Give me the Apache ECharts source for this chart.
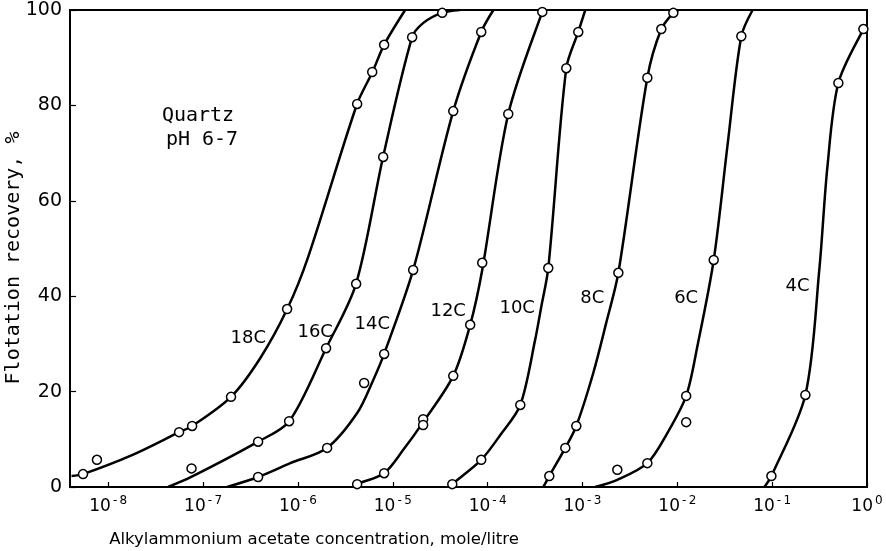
<!DOCTYPE html>
<html>
<head>
<meta charset="utf-8">
<script src="https://cdn.jsdelivr.net/npm/echarts@6/dist/echarts.min.js"></script>
<style>html,body{margin:0;padding:0;background:#fff;}#c{width:886px;height:551px;}</style>
</head>
<body>
<div id="c"></div>
<script>
// ---- data (x: mole/litre, y: flotation recovery %) ----
const curveNames = ['18C', '16C', '14C', '12C', '10C', '8C', '6C', '4C'];

// smooth fitted curves
const curve18C = [[4.1e-9,2.3],[5.4e-9,2.7],[1.83e-8,6.8],[5.6e-8,11.5],[7.7e-8,12.8],[1.97e-7,18.9],[4.0e-7,27.0],[7.7e-7,37.3],[1.28e-6,48.2],[4.2e-6,80.3],[6.1e-6,87.0],[8.1e-6,92.7],[1.35e-5,100]];
const curve16C = [[4.27e-8,0],[7.5e-8,2.1],[3.8e-7,9.5],[8.1e-7,13.8],[1.98e-6,29.1],[4.1e-6,42.6],[7.9e-6,69.2],[1.6e-5,94.3],[2.1e-5,97.3],[3.3e-5,99.4],[5.1e-5,100]];
const curve14C = [[1.79e-7,0],[3.8e-7,2.1],[8.3e-7,5.0],[2.03e-6,8.2],[4.21e-6,15.5],[6.21e-6,22.4],[8.1e-6,27.9],[1.64e-5,45.5],[4.34e-5,78.8],[8.56e-5,95.4],[1.15e-4,100]];
const curve12C = [[3.82e-6,0],[4.21e-6,0.6],[8.1e-6,2.9],[1.29e-5,7.8],[2.09e-5,13.6],[4.34e-5,23.3],[6.55e-5,34.0],[8.77e-5,45.5],[1.65e-4,78.2],[3.77e-4,99.6],[4.05e-4,100]];
const curve10C = [[4.04e-5,0],[4.24e-5,0.6],[8.56e-5,5.7],[1.36e-4,10.9],[2.21e-4,17.2],[3.18e-4,31.0],[3.67e-4,37.7],[4.36e-4,45.9],[6.75e-4,87.8],[9.03e-4,95.4],[1.07e-3,100]];
const curve8C  = [[3.86e-4,0],[4.47e-4,2.3],[6.59e-4,8.2],[8.61e-4,12.8],[1.30e-3,23.9],[1.78e-3,34.4],[2.39e-3,44.9],[4.83e-3,85.8],[6.78e-3,96.0],[9.08e-3,99.4],[1.03e-2,100]];
const curve6C  = [[1.36e-3,0],[2.33e-3,1.5],[4.83e-3,5.0],[7.85e-3,11.3],[1.24e-2,19.1],[1.62e-2,29.3],[2.42e-2,47.6],[3.40e-2,72.0],[4.73e-2,94.5],[6.22e-2,100]];
const curve4C  = [[8.28e-2,0],[9.82e-2,2.3],[0.224,19.3],[0.314,45.5],[0.382,67.0],[0.499,84.7],[0.916,96.0],[1.0,96.9]];

// measured points (open circles)
const pts18C = [[5.42e-9,2.7],[7.6e-9,5.7],[5.58e-8,11.5],[7.66e-8,12.8],[1.97e-7,18.9],[7.69e-7,37.3],[4.21e-6,80.3],[6.07e-6,87.0],[8.11e-6,92.7]];
const pts16C = [[7.55e-8,3.9],[3.80e-7,9.5],[8.07e-7,13.8],[1.98e-6,29.1],[4.11e-6,42.6],[7.92e-6,69.2],[1.60e-5,94.3],[3.32e-5,99.4]];
const pts14C = [[3.80e-7,2.1],[2.03e-6,8.2],[4.99e-6,21.8],[8.11e-6,27.9],[1.64e-5,45.5],[4.34e-5,78.8],[8.56e-5,95.4]];
const pts12C = [[4.21e-6,0.6],[8.11e-6,2.9],[2.09e-5,14.2],[2.09e-5,13.0],[4.34e-5,23.3],[6.55e-5,34.0],[8.77e-5,47.0],[1.65e-4,78.2],[3.77e-4,99.6]];
const pts10C = [[4.24e-5,0.6],[8.56e-5,5.7],[2.21e-4,17.2],[4.36e-4,45.9],[6.75e-4,87.8],[9.03e-4,95.4]];
const pts8C  = [[4.47e-4,2.3],[6.59e-4,8.2],[8.61e-4,12.8],[2.39e-3,44.9],[4.83e-3,85.8],[6.78e-3,96.0],[9.08e-3,99.4]];
const pts6C  = [[2.33e-3,3.6],[4.83e-3,5.0],[1.24e-2,13.6],[1.24e-2,19.1],[2.42e-2,47.6],[4.73e-2,94.5]];
const pts4C  = [[9.82e-2,2.3],[0.224,19.3],[0.499,84.7],[0.916,96.0]];

// curve label anchor positions (data coords)
const labelPos = [[2.99e-7,31.2],[1.52e-6,32.5],[6.07e-6,34.0],[3.84e-5,36.9],[2.05e-4,37.5],[1.27e-3,39.6],[1.24e-2,39.6],[0.185,42.1]];

const xMin = 3.95e-9, xMax = 1;
const yTicks = [0, 20, 40, 60, 80, 100];

const curves = [curve18C, curve16C, curve14C, curve12C, curve10C, curve8C, curve6C, curve4C];
const points = [pts18C, pts16C, pts14C, pts12C, pts10C, pts8C, pts6C, pts4C];

const FONT = 'DejaVu Sans';
const series = [];
curves.forEach((c, i) => {
  series.push({
    name: curveNames[i] + ' curve', type: 'line', data: c, smooth: 0.3,
    showSymbol: false, symbol: 'none', lineStyle: { color: '#000', width: 2.5 }, z: 2, silent: true
  });
});
points.forEach((p, i) => {
  series.push({
    name: curveNames[i], type: 'scatter', data: p, symbol: 'circle', symbolSize: 9,
    itemStyle: { color: '#fff', borderColor: '#000', borderWidth: 1.5, opacity: 1 }, z: 4, silent: true
  });
});

const staticGraphic = [
  { type: 'text', x: 198, y: 116, style: { text: 'Quartz', fontFamily: 'DejaVu Sans Mono', fontSize: 20, fill: '#000', align: 'center', verticalAlign: 'middle' } },
  { type: 'text', x: 202, y: 140, style: { text: 'pH 6-7', fontFamily: 'DejaVu Sans Mono', fontSize: 20, fill: '#000', align: 'center', verticalAlign: 'middle' } },
  { type: 'text', x: 314, y: 540, style: { text: 'Alkylammonium acetate concentration, mole/litre', fontFamily: FONT, fontSize: 16.5, fill: '#000', align: 'center', verticalAlign: 'middle' } },
  { type: 'text', x: 14, y: 258, rotation: Math.PI / 2, style: { text: 'Flotation recovery, %', fontFamily: 'DejaVu Sans Mono', fontSize: 20, fill: '#000', align: 'center', verticalAlign: 'middle' } }
];

const chart = echarts.init(document.getElementById('c'), null, { renderer: 'canvas' });
chart.setOption({
  animation: false,
  backgroundColor: '#fff',
  grid: { left: 70, right: 19, top: 10, bottom: 64, show: true, borderColor: '#000', borderWidth: 2, backgroundColor: 'transparent' },
  xAxis: {
    type: 'log', logBase: 10, min: xMin, max: xMax, splitNumber: 9,
    axisLine: { show: true, lineStyle: { color: '#000', width: 2 } },
    axisTick: { show: true, inside: true, length: 5, lineStyle: { color: '#000', width: 1.2 } },
    splitLine: { show: false }, minorTick: { show: false }, minorSplitLine: { show: false },
    axisLabel: {
      margin: 8, showMinLabel: false,
      formatter: function (v) {
        const l = Math.log10(v), e = Math.round(l);
        if (Math.abs(l - e) > 0.01) return '';
        const s = e < 0 ? '-\u2009' + (-e) : String(e);
        return '{b|10}{s|' + s + '}';
      },
      rich: {
        b: { fontFamily: FONT, fontSize: 17, color: '#000' },
        s: { fontFamily: FONT, fontSize: 12, color: '#000', padding: [0, 0, 12, 2] }
      }
    }
  },
  yAxis: {
    type: 'value', min: yTicks[0], max: yTicks[yTicks.length - 1], interval: 20,
    axisLine: { show: true, lineStyle: { color: '#000', width: 2 } },
    axisTick: { show: true, inside: true, length: 6, lineStyle: { color: '#000', width: 1.2 } },
    splitLine: { show: false },
    axisLabel: { margin: 8, color: '#000', fontFamily: FONT, fontSize: 19 }
  },
  graphic: staticGraphic,
  series: series
});

// curve labels positioned through the chart's own axes
const labelGraphic = labelPos.map((p, i) => {
  const px = chart.convertToPixel({ gridIndex: 0 }, p);
  return { type: 'text', x: px[0], y: px[1], z: 10,
    style: { text: curveNames[i], fontFamily: FONT, fontSize: 18, fill: '#000', align: 'center', verticalAlign: 'middle' } };
});
chart.setOption({ graphic: staticGraphic.concat(labelGraphic) }, { replaceMerge: ['graphic'] });
</script>
</body>
</html>
